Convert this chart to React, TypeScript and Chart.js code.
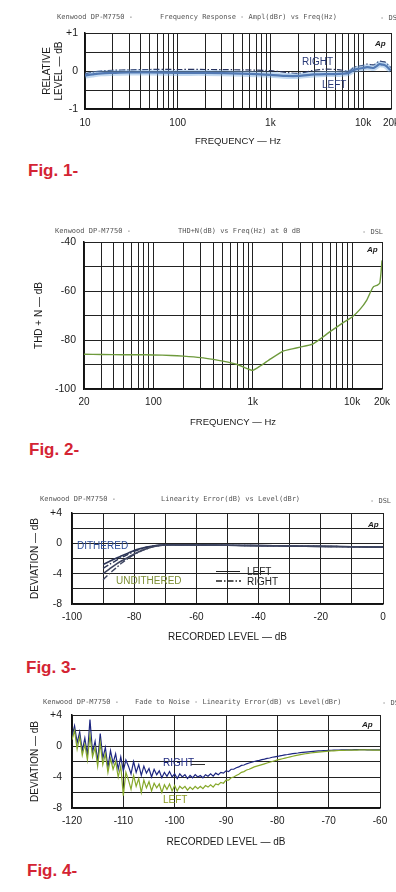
import React, { useEffect, useRef } from 'react';
import { Chart, registerables } from 'chart.js';

Chart.register(...registerables);

const FONT = "'Liberation Sans', Arial, Helvetica, sans-serif";
const MONO = "'DejaVu Sans Mono', 'Liberation Mono', monospace";
const INK = '#1a1a1a';
const GRID = '#222222';

// ---------------- Fig. 1 : Frequency response ----------------
const fig1Freq = [10, 12, 15, 20, 30, 50, 100, 200, 500, 1000, 1500, 2000, 3000, 4000, 5000, 6000, 7000, 8000, 9000, 10000, 11000, 12000, 13000, 14000, 15000, 16000, 17000, 18000, 19000, 20000];
const fig1Left = [-0.12, -0.09, -0.06, -0.05, -0.04, -0.04, -0.05, -0.05, -0.07, -0.1, -0.13, -0.13, -0.09, -0.08, -0.08, -0.07, -0.05, 0.03, 0.06, 0.08, 0.1, 0.09, 0.08, 0.13, 0.18, 0.17, 0.16, 0.12, 0.06, 0.02];
const fig1Right = [-0.08, -0.03, 0.0, 0.02, 0.03, 0.04, 0.04, 0.04, 0.03, 0.01, -0.04, -0.06, 0.02, 0.05, 0.04, 0.02, -0.01, 0.1, 0.13, 0.15, 0.18, 0.17, 0.16, 0.21, 0.26, 0.25, 0.24, 0.2, 0.13, 0.09];
const fig1XGrid = [10, 20, 30, 40, 50, 60, 70, 80, 90, 100, 200, 300, 400, 500, 600, 700, 800, 900, 1000, 2000, 3000, 4000, 5000, 6000, 7000, 8000, 9000, 10000, 20000];
const fig1XLabels: Record<string, string> = { '10': '10', '100': '100', '1000': '1k', '10000': '10k', '20000': '20k' };
const fig1YGrid = [-1, -0.5, 0, 0.5, 1];
const fig1YLabels = ['-1', '', '0', '', '+1'];

// ---------------- Fig. 2 : THD+N vs frequency ----------------
const fig2Freq = [20, 30, 50, 70, 100, 150, 200, 300, 400, 500, 700, 1000, 1200, 1500, 2000, 2500, 3000, 4000, 5000, 6000, 8000, 10000, 12000, 14000, 15500, 16500, 18000, 19000, 19600, 20000];
const fig2Thd = [-85.8, -85.9, -86.0, -86.0, -86.1, -86.3, -86.6, -87.2, -87.9, -88.6, -90.0, -92.4, -90.5, -87.8, -84.6, -83.6, -82.9, -81.7, -79.0, -76.6, -73.1, -70.6, -67.5, -63.8, -60.0, -58.2, -57.6, -56.8, -52.0, -47.5];
const fig2XGrid = [20, 30, 40, 50, 60, 70, 80, 90, 100, 200, 300, 400, 500, 600, 700, 800, 900, 1000, 2000, 3000, 4000, 5000, 6000, 7000, 8000, 9000, 10000, 20000];
const fig2XLabels: Record<string, string> = { '20': '20', '100': '100', '1000': '1k', '10000': '10k', '20000': '20k' };
const fig2YGrid = [-100, -90, -80, -70, -60, -50, -40];
const fig2YLabels = ['-100', '', '-80', '', '-60', '', '-40'];

// ---------------- Fig. 3 : Linearity error ----------------
const fig3Level = [-90, -88, -86, -84, -82, -80, -78, -76, -74, -72, -70, -65, -60, -50, -40, -30, -20, -10, 0];
const fig3DitheredLeft = [-2.8, -2.4, -2.0, -1.65, -1.3, -0.95, -0.7, -0.5, -0.35, -0.25, -0.2, -0.2, -0.22, -0.26, -0.3, -0.35, -0.4, -0.45, -0.5];
const fig3DitheredRight = [-3.3, -2.8, -2.3, -1.85, -1.45, -1.05, -0.75, -0.52, -0.37, -0.26, -0.2, -0.2, -0.22, -0.26, -0.3, -0.35, -0.4, -0.45, -0.5];
const fig3UnditheredLeft = [-4.0, -3.4, -2.8, -2.3, -1.85, -1.4, -1.0, -0.7, -0.45, -0.3, -0.22, -0.2, -0.22, -0.26, -0.3, -0.35, -0.4, -0.45, -0.5];
const fig3UnditheredRight = [-4.8, -4.0, -3.3, -2.6, -2.0, -1.5, -1.05, -0.72, -0.47, -0.3, -0.22, -0.2, -0.22, -0.26, -0.3, -0.35, -0.4, -0.45, -0.5];
const fig3XGrid = [-100, -90, -80, -70, -60, -50, -40, -30, -20, -10, 0];
const fig3XLabels = ['-100', '', '-80', '', '-60', '', '-40', '', '-20', '', '0'];
const devYGrid = [-8, -6, -4, -2, 0, 2, 4];
const devYLabels = ['-8', '', '-4', '', '0', '', '+4'];

// ---------------- Fig. 4 : Fade to noise ----------------
const fig4Level = [
  -120, -119.5, -119, -118.5, -118, -117.5, -117, -116.5, -116, -115.5,
  -115, -114.5, -114, -113.5, -113, -112.5, -112, -111.5, -111, -110.5,
  -110, -109.5, -109, -108.5, -108, -107.5, -107, -106.5, -106, -105.5,
  -105, -104.5, -104, -103.5, -103, -102.5, -102, -101.5, -101, -100.5,
  -100, -99.5, -99, -98.5, -98, -97.5, -97, -96.5, -96, -95.5,
  -95, -94.5, -94, -93.5, -93, -92.5, -92, -91.5, -91, -90.5,
  -90, -89.5, -89, -88.5, -88, -87.5, -87, -86.5, -86, -85.5,
  -85, -84.5, -84, -83.5, -83, -82.5, -82, -81.5, -81, -80.5,
  -80, -79.5, -79, -78.5, -78, -77.5, -77, -76.5, -76, -75.5,
  -75, -74.5, -74, -73.5, -73, -72.5, -72, -71.5, -71, -70.5,
  -70, -69.5, -69, -68.5, -68, -67.5, -67, -66.5, -66, -65.5,
  -65, -64.5, -64, -63.5, -63, -62.5, -62, -61.5, -61, -60.5,
  -60,
];
const fig4Right = [
  1.2, 2.6, 0.4, 1.8, -0.6, 1.0, -1.2, 3.4, -0.8, 0.6,
  -2.0, 1.6, -1.6, -0.2, -2.8, -0.6, -2.2, -1.0, -3.0, -1.4,
  -3.2, -1.8, -2.6, -3.6, -2.0, -3.4, -2.4, -3.8, -2.6, -3.5,
  -2.9, -4.0, -3.0, -3.7, -3.2, -4.1, -3.4, -3.9, -3.3, -4.0,
  -3.6, -4.2, -3.6, -4.0, -3.7, -4.2, -3.8, -4.1, -3.7, -4.0,
  -3.8, -4.1, -3.7, -3.9, -3.6, -3.9, -3.5, -3.7, -3.4, -3.5,
  -3.2, -3.3, -3.0, -3.0, -2.8, -2.7, -2.5, -2.45, -2.3, -2.2,
  -2.1, -2.0, -1.9, -1.85, -1.75, -1.7, -1.6, -1.55, -1.45, -1.4,
  -1.35, -1.28, -1.22, -1.15, -1.1, -1.04, -0.98, -0.94, -0.9, -0.85,
  -0.81, -0.78, -0.75, -0.72, -0.69, -0.66, -0.64, -0.62, -0.6, -0.58,
  -0.56, -0.55, -0.54, -0.53, -0.52, -0.51, -0.5, -0.5, -0.49, -0.49,
  -0.48, -0.48, -0.48, -0.48, -0.48, -0.49, -0.49, -0.5, -0.5, -0.5,
  -0.5,
];
const fig4Left = [
  0.8, 2.0, -0.4, 1.2, -1.2, 0.2, -1.8, 1.4, -1.4, -0.2,
  -2.6, 0.4, -2.4, -1.0, -3.4, -1.6, -3.0, -2.0, -4.0, -2.6,
  -6.4, -3.4, -4.4, -5.6, -3.8, -5.2, -4.2, -6.0, -4.4, -5.4,
  -4.6, -5.8, -4.8, -5.4, -4.9, -6.0, -5.0, -5.6, -4.9, -5.8,
  -5.1, -5.8, -5.2, -5.5, -5.2, -5.7, -5.3, -5.6, -5.2, -5.5,
  -5.2, -5.5, -5.1, -5.3, -5.0, -5.3, -4.9, -5.0, -4.7, -4.8,
  -4.4, -4.4, -4.1, -4.0, -3.8, -3.65, -3.4, -3.3, -3.1, -3.0,
  -2.85, -2.7, -2.6, -2.5, -2.4, -2.3, -2.2, -2.1, -2.0, -1.9,
  -1.8, -1.72, -1.64, -1.56, -1.48, -1.4, -1.32, -1.25, -1.18, -1.12,
  -1.06, -1.0, -0.95, -0.9, -0.86, -0.82, -0.78, -0.75, -0.72, -0.69,
  -0.66, -0.64, -0.62, -0.6, -0.58, -0.57, -0.56, -0.55, -0.54, -0.53,
  -0.52, -0.52, -0.51, -0.51, -0.51, -0.51, -0.51, -0.52, -0.52, -0.52,
  -0.52,
];
const fig4XGrid = [-120, -110, -100, -90, -80, -70, -60];
const fig4XLabels = ['-120', '-110', '-100', '-90', '-80', '-70', '-60'];

// ---------------- helpers ----------------
const pts = (xs: number[], ys: number[]) => xs.map((x, i) => ({ x, y: ys[i] }));

function xAxis(kind: string, min: number, max: number, grid: number[], label: (v: number, i: number) => string,
  height: number, tickPad: number, title: string, titleBottom: number, titleSize: number) {
  return {
    type: kind, min, max,
    afterBuildTicks: (s: any) => { s.ticks = grid.map((v) => ({ value: v })); },
    afterFit: (s: any) => { s.height = height; s.paddingLeft = 0; s.paddingRight = 0; },
    ticks: {
      autoSkip: false, maxRotation: 0, minRotation: 0, padding: tickPad, color: INK,
      font: { family: FONT, size: 10 },
      callback: (v: any, i: number) => label(Number(v), i),
    },
    grid: { color: GRID, lineWidth: 1, drawTicks: false },
    border: { color: '#111', width: 1.5 },
    title: { display: true, text: title, color: INK, font: { family: FONT, size: titleSize }, padding: { top: 0, bottom: titleBottom } },
  };
}

function yAxis(min: number, max: number, grid: number[], labels: string[], width: number, tickPad: number,
  title: string | string[], titlePad: number) {
  return {
    type: 'linear', min, max,
    afterBuildTicks: (s: any) => { s.ticks = grid.map((v) => ({ value: v })); },
    afterFit: (s: any) => { s.width = width; s.paddingTop = 0; s.paddingBottom = 0; },
    ticks: {
      autoSkip: false, padding: tickPad, color: INK, font: { family: FONT, size: 10.5 },
      callback: (_v: any, i: number) => labels[i] ?? '',
    },
    grid: { color: GRID, lineWidth: 1, drawTicks: false },
    border: { color: '#111', width: 1.5 },
    title: { display: true, text: title, color: INK, font: { family: FONT, size: 10 }, padding: { top: titlePad, bottom: 0 } },
  };
}

function baseOptions(padTop: number, padRight: number, x: any, y: any) {
  return {
    responsive: false,
    animation: false,
    events: [],
    layout: { padding: { left: 0, right: padRight, top: padTop, bottom: 0 } },
    plugins: { legend: { display: false }, tooltip: { enabled: false } },
    elements: { point: { radius: 0 } },
    scales: { x, y },
  };
}

const DASHDOT = [6, 2, 1.5, 2];

const fig1Config = () => ({
  type: 'line',
  data: {
    datasets: [
      { data: pts(fig1Freq, fig1Left), borderColor: 'rgba(120,170,225,0.45)', borderWidth: 6, tension: 0.3, pointRadius: 0 },
      { data: pts(fig1Freq, fig1Left), borderColor: '#34508f', borderWidth: 2.2, tension: 0.3, pointRadius: 0 },
      { data: pts(fig1Freq, fig1Right), borderColor: '#27325e', borderWidth: 1.2, borderDash: DASHDOT, tension: 0.3, pointRadius: 0 },
    ],
  },
  options: baseOptions(13, 5,
    xAxis('logarithmic', 10, 20000, fig1XGrid, (v) => fig1XLabels[String(v)] ?? '', 43, 8, 'FREQUENCY — Hz', 5, 9.5),
    yAxis(-1, 1, fig1YGrid, fig1YLabels, 85, 7, ['RELATIVE', 'LEVEL — dB'], 41)),
});

const fig2Config = () => ({
  type: 'line',
  data: {
    datasets: [
      { data: pts(fig2Freq, fig2Thd), borderColor: '#6e9a3c', borderWidth: 1.4, tension: 0.15, pointRadius: 0 },
    ],
  },
  options: baseOptions(20, 14,
    xAxis('logarithmic', 20, 20000, fig2XGrid, (v) => fig2XLabels[String(v)] ?? '', 45, 7, 'FREQUENCY — Hz', 6, 9.5),
    yAxis(-100, -40, fig2YGrid, fig2YLabels, 84, 8, 'THD + N — dB', 33)),
});

const fig3Config = () => ({
  type: 'line',
  data: {
    datasets: [
      { data: pts(fig3Level, fig3UnditheredLeft), borderColor: '#3e4560', borderWidth: 1.6, tension: 0.3, pointRadius: 0 },
      { data: pts(fig3Level, fig3UnditheredRight), borderColor: '#3e4560', borderWidth: 1.4, borderDash: DASHDOT, tension: 0.3, pointRadius: 0 },
      { data: pts(fig3Level, fig3DitheredLeft), borderColor: '#2d3658', borderWidth: 1.6, tension: 0.3, pointRadius: 0 },
      { data: pts(fig3Level, fig3DitheredRight), borderColor: '#2d3658', borderWidth: 1.4, borderDash: DASHDOT, tension: 0.3, pointRadius: 0 },
    ],
  },
  options: baseOptions(23, 13,
    xAxis('linear', -100, 0, fig3XGrid, (_v, i) => fig3XLabels[i] ?? '', 46, 7, 'RECORDED LEVEL — dB', 7, 10),
    yAxis(-8, 4, devYGrid, devYLabels, 72, 10, 'DEVIATION — dB', 29)),
});

const fig4Config = () => ({
  type: 'line',
  data: {
    datasets: [
      { data: pts(fig4Level, fig4Left), borderColor: '#86a82a', borderWidth: 1.2, tension: 0, pointRadius: 0 },
      { data: pts(fig4Level, fig4Right), borderColor: '#1c2580', borderWidth: 1.2, tension: 0, pointRadius: 0 },
    ],
  },
  options: baseOptions(23, 16,
    xAxis('linear', -120, -60, fig4XGrid, (_v, i) => fig4XLabels[i] ?? '', 46, 7, 'RECORDED LEVEL — dB', 6, 10),
    yAxis(-8, 4, devYGrid, devYLabels, 72, 10, 'DEVIATION — dB', 29)),
});

function Plot({ top, height, config }: { top: number; height: number; config: () => any }) {
  const ref = useRef<HTMLCanvasElement | null>(null);
  useEffect(() => {
    if (!ref.current) return;
    const chart = new Chart(ref.current, config());
    return () => chart.destroy();
  }, []);
  return (
    <canvas ref={ref} width={396} height={height}
      style={{ position: 'absolute', left: 0, top, width: 396, height, display: 'block' }} />
  );
}

function Txt({ x, y, children, style }: { x: number; y: number; children: React.ReactNode; style?: React.CSSProperties }) {
  return (
    <div style={{ position: 'absolute', left: x, top: y, transform: 'translateY(-50%)', whiteSpace: 'nowrap', lineHeight: 1, ...style }}>
      {children}
    </div>
  );
}

const head: React.CSSProperties = { fontFamily: MONO, fontSize: 7, color: '#555' };
const fig: React.CSSProperties = { fontFamily: FONT, fontSize: 17, fontWeight: 'bold', color: '#d42433' };
const ap: React.CSSProperties = { fontFamily: FONT, fontSize: 8, fontWeight: 'bold', fontStyle: 'italic', color: '#222' };
const note: React.CSSProperties = { fontFamily: FONT, fontSize: 10 };

export default function App() {
  return (
    <div style={{ position: 'absolute', left: 0, top: 0, width: 396, height: 892, background: '#fff', overflow: 'hidden' }}>
      <Plot top={20} height={132} config={fig1Config} />
      <Plot top={222} height={212} config={fig2Config} />
      <Plot top={490} height={160} config={fig3Config} />
      <Plot top={692} height={162} config={fig4Config} />

      {/* headers */}
      <Txt x={57} y={17} style={head}>Kenwood DP-M7750 -</Txt>
      <Txt x={160} y={17} style={head}>Frequency Response - Ampl(dBr) vs Freq(Hz)</Txt>
      <Txt x={380} y={18} style={head}>- DSL</Txt>
      <Txt x={55} y={231} style={head}>Kenwood DP-M7750 -</Txt>
      <Txt x={178} y={231} style={head}>THD+N(dB) vs Freq(Hz) at 0 dB</Txt>
      <Txt x={362} y={232} style={head}>- DSL</Txt>
      <Txt x={40} y={499} style={head}>Kenwood DP-M7750 -</Txt>
      <Txt x={161} y={499} style={head}>Linearity Error(dB) vs Level(dBr)</Txt>
      <Txt x={370} y={501} style={head}>- DSL</Txt>
      <Txt x={43} y={702} style={head}>Kenwood DP-M7750 -</Txt>
      <Txt x={135} y={702} style={head}>Fade to Noise - Linearity Error(dB) vs Level(dBr)</Txt>
      <Txt x={382} y={703} style={head}>- DSL</Txt>

      {/* Ap marks */}
      <Txt x={375} y={44} style={ap}>Ap</Txt>
      <Txt x={367} y={250} style={ap}>Ap</Txt>
      <Txt x={368} y={525} style={ap}>Ap</Txt>
      <Txt x={362} y={725} style={ap}>Ap</Txt>

      {/* Fig 1 notes */}
      <Txt x={302} y={62} style={{ ...note, color: '#2a3a78' }}>RIGHT</Txt>
      <Txt x={322} y={85} style={{ ...note, color: '#2a3a78' }}>LEFT</Txt>

      {/* Fig 3 notes */}
      <Txt x={77} y={546} style={{ ...note, color: '#2f4f9a' }}>DITHERED</Txt>
      <Txt x={116} y={581} style={{ ...note, color: '#7d8f35' }}>UNDITHERED</Txt>
      <div style={{ position: 'absolute', left: 216, top: 571, width: 24, borderTop: '1.5px solid #222' }} />
      <svg style={{ position: 'absolute', left: 216, top: 579 }} width={25} height={4}>
        <line x1={0} y1={2} x2={25} y2={2} stroke="#222" strokeWidth={1.5} strokeDasharray="6 2 1.5 2" />
      </svg>
      <Txt x={247} y={572} style={{ ...note, color: '#222' }}>LEFT</Txt>
      <Txt x={247} y={582} style={{ ...note, color: '#222' }}>RIGHT</Txt>

      {/* Fig 4 notes */}
      <Txt x={163} y={763} style={{ ...note, color: '#1f2a80' }}>RIGHT</Txt>
      <div style={{ position: 'absolute', left: 191, top: 764, width: 14, borderTop: '1px solid #333' }} />
      <Txt x={163} y={800} style={{ ...note, color: '#8a9a20' }}>LEFT</Txt>

      {/* Figure captions */}
      <Txt x={28} y={170} style={fig}>Fig. 1-</Txt>
      <Txt x={29} y={449} style={fig}>Fig. 2-</Txt>
      <Txt x={26} y={667} style={fig}>Fig. 3-</Txt>
      <Txt x={27} y={870} style={fig}>Fig. 4-</Txt>
    </div>
  );
}
